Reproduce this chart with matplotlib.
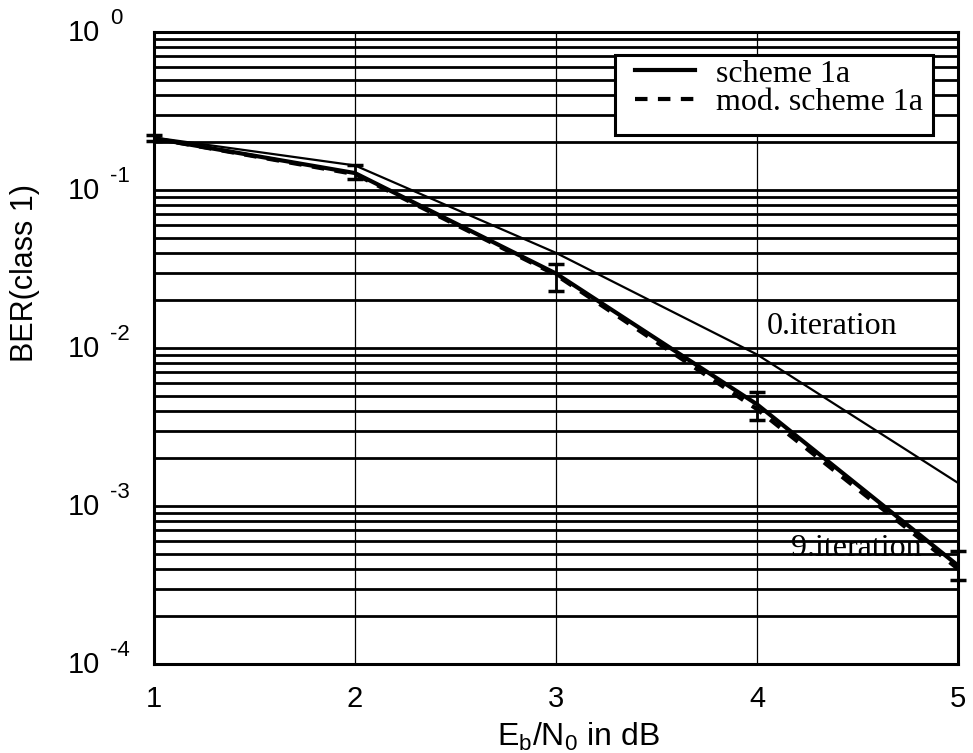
import numpy as np
import matplotlib.pyplot as plt
from matplotlib.patches import Rectangle

# Eb/N0 in dB
snr = [1, 2, 3, 4, 5]

# BER values
ber_it0 = [0.215, 0.143, 0.040, 0.0091, 0.0014]
ber_it9 = [0.212, 0.128, 0.0296, 0.0044, 0.00042]
ber_it9_mod = [0.212, 0.126, 0.0290, 0.0041, 0.00040]

# confidence intervals around the 9th iteration
err_lo = [0.205, 0.118, 0.0228, 0.0035, 0.00034]
err_hi = [0.222, 0.145, 0.034, 0.0053, 0.00052]

decades = [1e0, 1e-1, 1e-2, 1e-3, 1e-4]
exponents = ['0', '-1', '-2', '-3', '-4']

sans = ['Liberation Sans', 'DejaVu Sans']
serif = ['Liberation Serif', 'DejaVu Serif']

fig = plt.figure(figsize=(9.73, 7.53), dpi=100)
ax = fig.add_axes([154/973, 1 - 664/753, 804/973, 632/753])

ax.set_yscale('log')
ax.set_xlim(1, 5)
ax.set_ylim(1e-4, 1e0)

# grid: thick horizontal lines at every log tick, thin vertical lines
ax.set_yticks(decades)
ax.set_yticks([m * d for d in decades[1:] for m in range(2, 10)], minor=True)
ax.set_xticks(snr)
ax.grid(True, axis='y', which='both', color='black', lw=2.0)
ax.grid(True, axis='x', which='major', color='black', lw=0.9)
ax.set_axisbelow(True)

ax.plot(snr, ber_it0, color='black', lw=1.6)
ax.plot(snr, ber_it9, color='black', lw=3.0, label='scheme 1a')
ax.plot(snr, ber_it9_mod, color='black', lw=3.0, ls=(0, (3, 2.5)),
        label='mod. scheme 1a')

yerr = [np.array(ber_it9) - np.array(err_lo), np.array(err_hi) - np.array(ber_it9)]
ax.errorbar(snr, ber_it9, yerr=yerr, fmt='none', ecolor='black',
            elinewidth=2.0, capsize=6, capthick=2.5, clip_on=False, zorder=5)

ax.text(4.05, 0.0136, '0.iteration', family=serif, fontsize=23,
        ha='left', va='center')
ax.text(4.17, 5.42e-4, '9.iteration', family=serif, fontsize=23,
        ha='left', va='center')

# legend box (drawn separately so it can keep the empty space below the entries)
ax.add_patch(Rectangle((0.5734, 0.837), 0.3955, 0.1266, transform=ax.transAxes,
                       facecolor='white', edgecolor='black', lw=2.2, zorder=4))
leg = ax.legend(loc='upper left', bbox_to_anchor=(0.598, 0.957),
                prop={'family': serif, 'size': 23}, frameon=False,
                handlelength=1.9, handletextpad=0.65,
                borderpad=0, labelspacing=-0.02, borderaxespad=0)
leg.set_zorder(6)

for s in ax.spines.values():
    s.set_linewidth(2.2)

ax.tick_params(axis='both', which='both', length=0)
ax.tick_params(axis='x', pad=15, labelsize=21)
ax.set_xticklabels([str(v) for v in snr], family=sans)
ax.set_yticklabels([])

ytrans = ax.get_yaxis_transform()
for d, e in zip(decades, exponents):
    ax.annotate('10', xy=(0, d), xycoords=ytrans, xytext=(-54, -1),
                textcoords='offset pixels', ha='right', va='center',
                family=sans, fontsize=21, annotation_clip=False)
    ax.annotate(e, xy=(0, d), xycoords=ytrans, xytext=(-44, 14),
                textcoords='offset pixels', ha='left', va='center',
                family=sans, fontsize=16, annotation_clip=False)

fig.text(578/973, 1 - 737/753, r'E$_\mathregular{b}$/N$_\mathregular{0}$ in dB',
         family=sans, fontsize=23, ha='center', va='center')
fig.text(25/973, 1 - 273/753, 'BER(class 1)', family=sans, fontsize=22,
         rotation=90, ha='center', va='center')

fig.savefig('out.png', dpi=100)
